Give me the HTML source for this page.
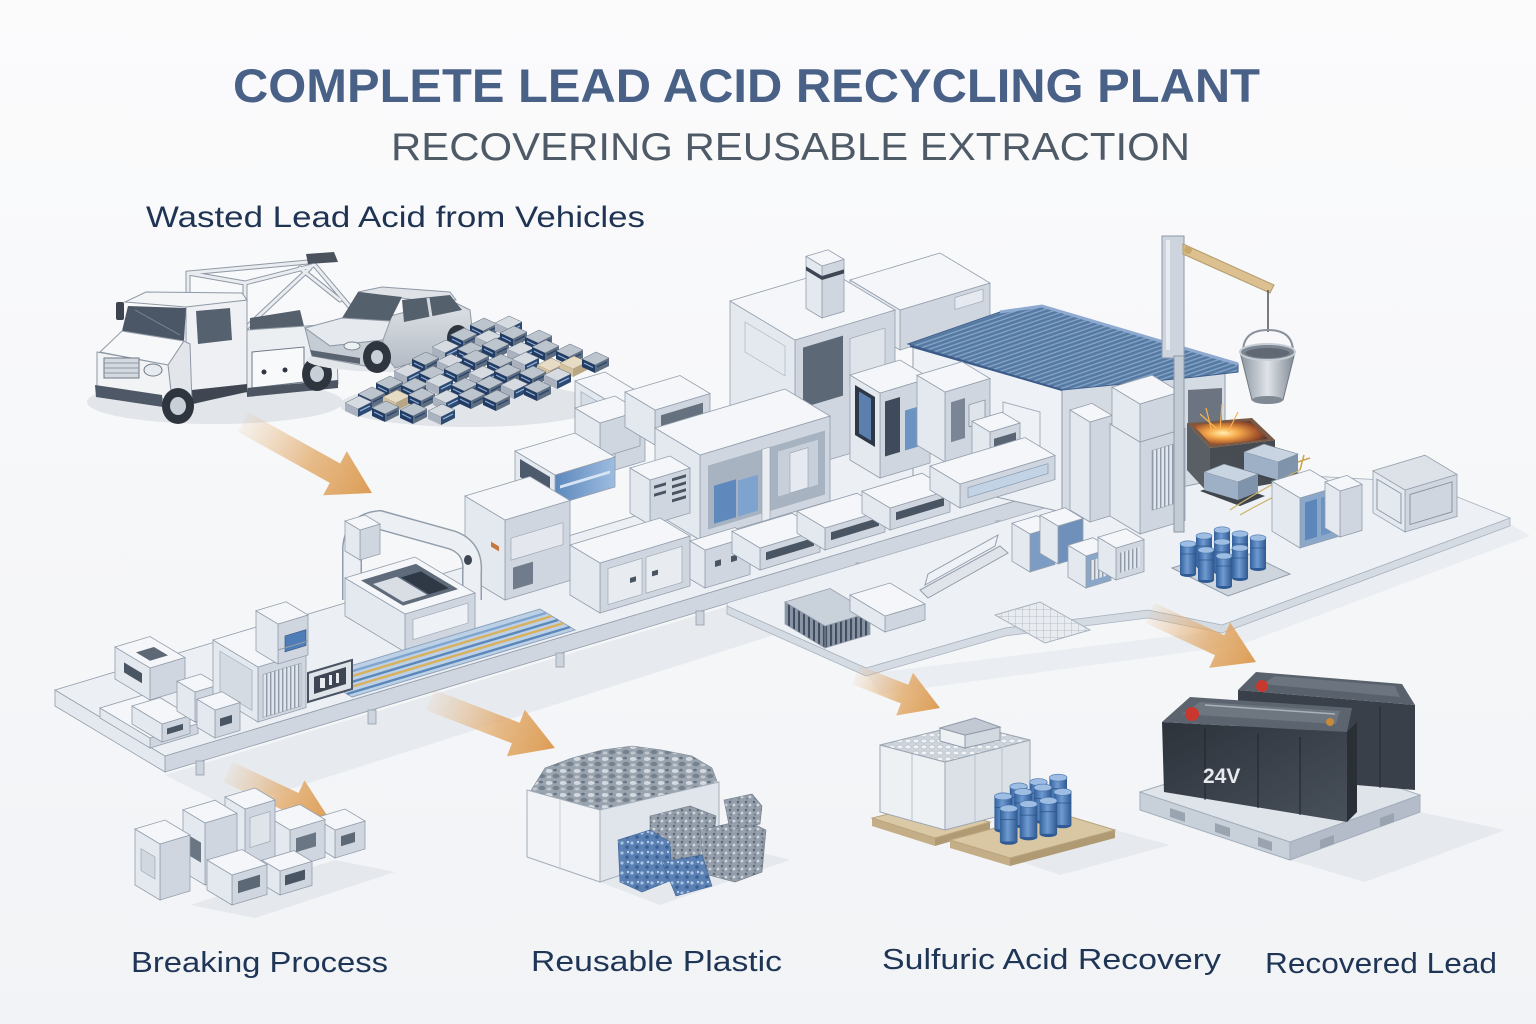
<!DOCTYPE html>
<html><head><meta charset="utf-8"><style>
html,body{margin:0;padding:0;background:#f7f8fa;}
svg{display:block}
.t{fill:#f4f6f9}.l{fill:#e4e9ef}.r{fill:#cfd6df}
.t,.l,.r,.s{stroke:#939eac;stroke-width:.8;vector-effect:non-scaling-stroke}
text{font-family:"Liberation Sans",sans-serif}
</style></head><body>
<svg width="1536" height="1024" viewBox="0 0 1536 1024">
<defs>
<linearGradient id="bgg" x1="0" y1="0" x2="0" y2="1"><stop offset="0" stop-color="#fbfbfc"/><stop offset="1" stop-color="#f1f3f6"/></linearGradient>
<linearGradient id="dg" x1="0" y1="0" x2="1" y2="0"><stop offset="0" stop-color="#33609a"/><stop offset=".45" stop-color="#6f9bd2"/><stop offset="1" stop-color="#2f5890"/></linearGradient>
<linearGradient id="bg" x1="0" y1="0" x2="1" y2="0"><stop offset="0" stop-color="#5d88bd"/><stop offset="1" stop-color="#9dbde0"/></linearGradient>
<linearGradient id="batg" x1="0" y1="0" x2="1" y2="1"><stop offset="0" stop-color="#2d333b"/><stop offset="1" stop-color="#48505a"/></linearGradient>
<linearGradient id="bkt" x1="0" y1="0" x2="1" y2="0"><stop offset="0" stop-color="#8a949f"/><stop offset=".5" stop-color="#dfe3e8"/><stop offset="1" stop-color="#7f8994"/></linearGradient>
<linearGradient id="carg" x1="0" y1="0" x2="0" y2="1"><stop offset="0" stop-color="#dfe3e8"/><stop offset="1" stop-color="#b3bac3"/></linearGradient>
<radialGradient id="fire" cx=".4" cy=".5" r=".6"><stop offset="0" stop-color="#fff0b0"/><stop offset=".35" stop-color="#f6a94a"/><stop offset=".8" stop-color="#a0502a"/><stop offset="1" stop-color="#5a3a30"/></radialGradient>
<pattern id="gr" width="4" height="4" patternUnits="userSpaceOnUse"><rect width="4" height="4" fill="#e2e6ec"/><rect width="1.4" height="4" fill="#8f9aa8"/></pattern>
<pattern id="corr" width="6" height="4" patternUnits="userSpaceOnUse" patternTransform="rotate(-19)"><rect width="6" height="4" fill="#56799f"/><rect width="6" height="1.5" fill="#7fa0c9"/></pattern>
<pattern id="hatch" width="5" height="5" patternUnits="userSpaceOnUse"><rect width="5" height="5" fill="#8894a3"/><rect width="2" height="5" fill="#3f4b5c"/></pattern>
<pattern id="grid" width="7" height="7" patternUnits="userSpaceOnUse"><rect width="7" height="7" fill="#e8ecf0"/><path d="M0,0H7M0,0V7" stroke="#a7b0bc" stroke-width=".8"/></pattern>
<pattern id="sp" width="14" height="12" patternUnits="userSpaceOnUse"><rect width="14" height="12" fill="#9aa4af"/><ellipse cx="3" cy="3" rx="3.5" ry="2" fill="#d3d9df"/><ellipse cx="10" cy="8" rx="3.5" ry="2.2" fill="#76818e"/><ellipse cx="9" cy="2" rx="2" ry="1.3" fill="#6a7583"/><ellipse cx="3" cy="9" rx="2.5" ry="1.5" fill="#c0c7cf"/></pattern>
<pattern id="spb" width="10" height="10" patternUnits="userSpaceOnUse"><rect width="10" height="10" fill="#5a80b4"/><circle cx="2" cy="3" r="1.6" fill="#a9c3e3"/><circle cx="7" cy="7" r="1.8" fill="#3a5f93"/><circle cx="8" cy="2" r="1" fill="#dce8f5"/></pattern>
<pattern id="spg" width="8" height="8" patternUnits="userSpaceOnUse"><rect width="8" height="8" fill="#959fab"/><circle cx="2" cy="2" r="1.3" fill="#5f6a78"/><circle cx="6" cy="5" r="1.4" fill="#d0d6dd"/><circle cx="3" cy="6.5" r="1" fill="#6f7a88"/></pattern>
<pattern id="btl" width="8" height="6" patternUnits="userSpaceOnUse"><rect width="8" height="6" fill="#cfd5dc"/><ellipse cx="4" cy="3" rx="3" ry="2" fill="#f1f3f6" stroke="#9ea8b4" stroke-width=".5"/></pattern>
<g id="bt"><polygon points="0,-13 14,-20 27,-14 13,-7" fill="#bcc4ce" stroke="#5d6979" stroke-width=".5"/><polygon points="0,-13 13,-7 13,1 0,-5" fill="#223b62"/><polygon points="13,-7 27,-14 27,-6 13,1" fill="#5f6d80"/><line x1="2" y1="-9" x2="11" y2="-4.5" stroke="#8fb0d8" stroke-width="1.2"/><line x1="15" y1="-5" x2="25" y2="-10" stroke="#2a4670" stroke-width="1.4"/></g>
<g id="bt3"><polygon points="0,-13 14,-20 27,-14 13,-7" fill="#d6dbe1" stroke="#5d6979" stroke-width=".5"/><polygon points="0,-13 13,-7 13,1 0,-5" fill="#a9b2be"/><polygon points="13,-7 27,-14 27,-6 13,1" fill="#2d4a72"/><line x1="15" y1="-5" x2="25" y2="-10" stroke="#9dbbe0" stroke-width="1.2"/></g>
<g id="bt2"><polygon points="0,-13 14,-20 27,-14 13,-7" fill="#e6dcc6" stroke="#8a7d66" stroke-width=".5"/><polygon points="0,-13 13,-7 13,1 0,-5" fill="#d3c2a0"/><polygon points="13,-7 27,-14 27,-6 13,1" fill="#b8a685"/></g>
<g id="dr"><ellipse cx="8" cy="30" rx="8" ry="3" fill="#2f5a93"/><rect width="16" height="30" fill="url(#dg)"/><line x1="0" y1="10" x2="16" y2="10" stroke="#2c5288" stroke-width=".7"/><ellipse cx="8" cy="0" rx="8" ry="3.2" fill="#9dbde3" stroke="#4a76ad" stroke-width=".6"/></g>
<linearGradient id="a1" gradientUnits="userSpaceOnUse" x1="243" y1="422" x2="372" y2="493"><stop offset="0" stop-color="#e6b57e" stop-opacity=".1"/><stop offset=".55" stop-color="#e2aa6a" stop-opacity=".8"/><stop offset="1" stop-color="#dc9d55"/></linearGradient>
<linearGradient id="a2" gradientUnits="userSpaceOnUse" x1="430" y1="700" x2="555" y2="748"><stop offset="0" stop-color="#e6b57e" stop-opacity=".1"/><stop offset=".55" stop-color="#e2aa6a" stop-opacity=".8"/><stop offset="1" stop-color="#dc9d55"/></linearGradient>
<linearGradient id="a3" gradientUnits="userSpaceOnUse" x1="228" y1="772" x2="330" y2="820"><stop offset="0" stop-color="#e6b57e" stop-opacity=".1"/><stop offset=".55" stop-color="#e2aa6a" stop-opacity=".8"/><stop offset="1" stop-color="#dc9d55"/></linearGradient>
<linearGradient id="a4" gradientUnits="userSpaceOnUse" x1="856" y1="675" x2="940" y2="708"><stop offset="0" stop-color="#e6b57e" stop-opacity=".1"/><stop offset=".55" stop-color="#e2aa6a" stop-opacity=".8"/><stop offset="1" stop-color="#dc9d55"/></linearGradient>
<linearGradient id="a5" gradientUnits="userSpaceOnUse" x1="1150" y1="613" x2="1256" y2="662"><stop offset="0" stop-color="#e6b57e" stop-opacity=".1"/><stop offset=".55" stop-color="#e2aa6a" stop-opacity=".8"/><stop offset="1" stop-color="#dc9d55"/></linearGradient>
</defs>

<rect width="1536" height="1024" fill="url(#bgg)"/>

<!-- TITLES -->
<text x="233" y="102" font-size="47" font-weight="bold" fill="#4a6187" textLength="1027" lengthAdjust="spacingAndGlyphs">COMPLETE LEAD ACID RECYCLING PLANT</text>
<text x="391" y="160" font-size="39" fill="#4f5a67" textLength="799" lengthAdjust="spacingAndGlyphs">RECOVERING REUSABLE EXTRACTION</text>
<text x="146" y="227" font-size="30" fill="#1f3453" textLength="499" lengthAdjust="spacingAndGlyphs">Wasted Lead Acid from Vehicles</text>

<!-- TRUCK -->
<ellipse cx="215" cy="402" rx="128" ry="22" fill="#e2e5e9"/>
<!-- boom frame -->
<g fill="none" stroke-linecap="round">
<path d="M188,306 L188,273 L308,262 M245,388 L245,283 L188,273 M245,283 L312,266 M247,327 L310,268 M312,262 L350,307 M300,268 L340,300" stroke="#8f99a6" stroke-width="5"/>
<path d="M188,306 L188,273 L308,262 M245,388 L245,283 L188,273 M245,283 L312,266 M247,327 L310,268 M312,262 L350,307 M300,268 L340,300" stroke="#e9ecf0" stroke-width="3"/>
</g>
<polygon points="306,254 334,252 338,262 308,264" fill="#4a525e"/>
<!-- bed -->
<polygon points="250,318 300,310 306,334 250,342" fill="#56606d"/>
<polygon points="247,330 336,324 338,384 247,393" fill="#eceff2" stroke="#8f99a6"/>
<polygon points="252,352 304,347 304,382 252,388" fill="#f8f9fa" stroke="#6f7987"/>
<circle cx="264" cy="372" r="2.5" fill="#2f3640"/><circle cx="285" cy="370" r="2.5" fill="#2f3640"/>
<polygon points="247,388 338,380 338,388 247,397" fill="#4d5563"/>
<ellipse cx="317" cy="374" rx="15" ry="17" fill="#2f353e"/><ellipse cx="317" cy="374" rx="7" ry="8" fill="#c9cfd7"/>
<!-- cab -->
<polygon points="186,306 247,300 247,390 192,404 186,396" fill="#eef0f3" stroke="#8f99a6"/>
<polygon points="196,311 230,308 232,340 198,344" fill="#56616f"/>
<polygon points="192,390 247,384 247,392 192,404" fill="#3f4652"/>
<polygon points="125,302 146,292 242,293 247,300 186,307" fill="#f4f5f7" stroke="#8f99a6"/>
<polygon points="128,306 186,308 184,341 122,331" fill="#4b5666"/>
<line x1="135" y1="310" x2="180" y2="335" stroke="#7c8795" stroke-width="1"/>
<rect x="116" y="302" width="8" height="18" rx="2" fill="#3d4450"/>
<polygon points="100,352 122,331 184,341 168,365" fill="#f7f8fa" stroke="#8f99a6"/>
<polygon points="168,365 184,341 190,344 192,404 172,400" fill="#e2e6eb" stroke="#8f99a6"/>
<polygon points="97,352 168,365 172,400 97,390" fill="#f1f3f5" stroke="#8f99a6"/>
<rect x="104" y="358" width="35" height="20" fill="#d3d9df" stroke="#6f7987"/>
<path d="M104,363H139M104,368H139M104,373H139" stroke="#8f99a6"/>
<ellipse cx="153" cy="370" rx="9" ry="6" fill="#e6ebf0" stroke="#6f7987"/>
<polygon points="95,385 162,395 163,407 96,397" fill="#4f5866"/>
<ellipse cx="178" cy="406" rx="16" ry="18" fill="#2f353e"/><ellipse cx="178" cy="406" rx="8" ry="9" fill="#c9cfd7"/>

<!-- CAR -->
<ellipse cx="395" cy="360" rx="88" ry="12" fill="#e2e5e9"/>
<polygon points="358,292 382,287 450,292 456,300 430,302" fill="#dfe3e8" stroke="#8f99a6"/>
<polygon points="383,318 450,300 470,310 474,345 395,368 383,352" fill="url(#carg)" stroke="#8f99a6"/>
<polygon points="342,318 358,292 402,297 390,321" fill="#55606d"/>
<polygon points="402,300 450,295 462,310 404,322" fill="#55606d"/>
<line x1="428" y1="298" x2="431" y2="317" stroke="#d4d9df" stroke-width="3"/>
<polygon points="305,328 342,318 390,321 383,340 330,346" fill="#e6e9ed" stroke="#8f99a6"/>
<polygon points="305,328 330,346 383,340 383,356 365,366 312,356" fill="#c6ccd4" stroke="#8f99a6"/>
<ellipse cx="352" cy="346" rx="8" ry="4" fill="#eef1f4" stroke="#7d8794"/>
<polygon points="310,350 360,358 360,364 312,356" fill="#5a6370"/>
<ellipse cx="377" cy="357" rx="14" ry="16" fill="#2f353e"/><ellipse cx="377" cy="357" rx="6" ry="7" fill="#c9cfd7"/>
<ellipse cx="458" cy="338" rx="11" ry="13" fill="#2f353e"/><ellipse cx="458" cy="338" rx="5" ry="6" fill="#c9cfd7"/>

<!-- BATTERY PILE -->
<ellipse cx="470" cy="405" rx="130" ry="22" fill="#e1e4e8"/>
<use href="#bt" x="470" y="338"/><use href="#bt3" x="495" y="336"/>
<use href="#bt" x="450" y="348"/><use href="#bt3" x="475" y="350"/><use href="#bt" x="500" y="346"/><use href="#bt" x="525" y="350"/>
<use href="#bt3" x="432" y="360"/><use href="#bt" x="457" y="362"/><use href="#bt" x="482" y="358"/><use href="#bt3" x="507" y="362"/><use href="#bt" x="532" y="360"/><use href="#bt" x="556" y="364"/>
<use href="#bt" x="412" y="372"/><use href="#bt3" x="437" y="374"/><use href="#bt" x="462" y="370"/><use href="#bt" x="487" y="374"/><use href="#bt3" x="512" y="372"/><use href="#bt2" x="537" y="378"/><use href="#bt2" x="560" y="376"/><use href="#bt" x="582" y="372"/>
<use href="#bt3" x="394" y="384"/><use href="#bt" x="419" y="386"/><use href="#bt" x="444" y="382"/><use href="#bt3" x="469" y="386"/><use href="#bt" x="494" y="384"/><use href="#bt" x="519" y="386"/><use href="#bt3" x="544" y="388"/>
<use href="#bt" x="376" y="396"/><use href="#bt" x="401" y="398"/><use href="#bt3" x="426" y="394"/><use href="#bt" x="451" y="398"/><use href="#bt" x="476" y="396"/><use href="#bt3" x="501" y="398"/><use href="#bt" x="524" y="400"/>
<use href="#bt" x="358" y="407"/><use href="#bt2" x="383" y="410"/><use href="#bt" x="408" y="408"/><use href="#bt3" x="433" y="410"/><use href="#bt" x="458" y="408"/><use href="#bt" x="483" y="410"/>
<use href="#bt3" x="345" y="416"/><use href="#bt" x="372" y="421"/><use href="#bt" x="400" y="423"/><use href="#bt3" x="428" y="424"/>

<!-- PLANT SHADOWS -->
<polygon points="165,775 1065,505 1120,525 230,808" fill="#e7eaee"/>
<polygon points="866,674 1222,630 1510,524 1530,536 1240,645 880,694" fill="#eaedf1"/>

<!-- PLATFORM -->
<g transform="translate(165,772)"><rect class="r" transform="matrix(1,-.3,0,1,0,0)" y="-16" width="900" height="16"/><rect class="l" transform="matrix(-1,-.6,0,1,0,0)" y="-16" width="110" height="16"/><rect class="t" style="fill:#eceff3" transform="matrix(1,-.3,-1,-.6,0,-16)" width="900" height="110"/></g>
<g fill="#cdd4dd" stroke="#939eac" stroke-width=".8"><rect x="196" y="761" width="8" height="14"/><rect x="368" y="710" width="8" height="14"/><rect x="556" y="653" width="8" height="14"/><rect x="696" y="611" width="8" height="14"/><rect x="856" y="563" width="8" height="14"/><rect x="996" y="521" width="8" height="14"/></g>

<!-- YARD FLOOR -->
<polygon points="727,614 866,676 1005,636 1148,618 1222,633 1510,526 1510,518 1222,625 1148,610 1005,628 866,668 727,606" fill="#d5dbe3" stroke="#a9b2be" stroke-width=".8"/>
<polygon points="727,606 866,668 1005,628 1148,610 1222,625 1510,518 1420,482 1200,470 1065,502 727,603" fill="#edf0f4" stroke="#a9b2be" stroke-width=".8"/>

<!-- BACK BLOCK -->
<g transform="translate(900,350)"><rect class="r" transform="matrix(1,-.3,0,1,0,0)" y="-40" width="90" height="40"/><rect class="l" transform="matrix(-1,-.6,0,1,0,0)" y="-40" width="50" height="40"/><rect class="t" transform="matrix(1,-.3,-1,-.6,0,-40)" width="90" height="50"/><rect transform="matrix(1,-.3,0,1,0,0)" x="55" y="-36" width="28" height="12" fill="#e6eaf0" stroke="#939eac" stroke-width=".6"/></g>

<!-- BUILDING -->
<polygon points="913,345 1062,385 1062,512 913,478" fill="#eef1f5" stroke="#939eac"/>
<polygon points="1003,402 1040,412 1040,458 1003,448" fill="none" stroke="#a4aebb"/>
<polygon points="1062,385 1225,372 1225,478 1062,512" fill="#d5dbe3" stroke="#939eac"/>
<polygon points="1188,390 1222,388 1222,430 1188,428" fill="#6b7480"/>
<polygon points="908,344 1000,312 1042,306 1238,364 1238,372 1195,377 1062,390" fill="url(#corr)" stroke="#3f5f8c"/>
<polyline points="1000,312 1042,306 1238,364" stroke="#8eaad0" stroke-width="3" fill="none"/>
<line x1="910" y1="346" x2="1062" y2="390" stroke="#3d5b88" stroke-width="2"/>

<!-- TALL BLOCK + CHIMNEY -->
<g transform="translate(795,470)"><rect class="r" transform="matrix(1,-.3,0,1,0,0)" y="-130" width="100" height="130"/><rect class="l" transform="matrix(-1,-.6,0,1,0,0)" y="-130" width="65" height="130"/><rect class="t" transform="matrix(1,-.3,-1,-.6,0,-130)" width="100" height="65"/>
<rect transform="matrix(1,-.3,0,1,0,0)" x="8" y="-120" width="40" height="60" fill="#5d6877"/><rect transform="matrix(1,-.3,0,1,0,0)" x="55" y="-115" width="35" height="45" fill="#dfe4ea" stroke="#939eac" stroke-width=".6"/>
<rect transform="matrix(-1,-.6,0,1,0,0)" x="10" y="-118" width="40" height="30" fill="none" stroke="#a4aebb" stroke-width=".6"/></g>
<g transform="translate(822,318)"><rect class="r" transform="matrix(1,-.3,0,1,0,0)" y="-52" width="22" height="52"/><rect class="l" transform="matrix(-1,-.6,0,1,0,0)" y="-52" width="16" height="52"/><rect class="t" transform="matrix(1,-.3,-1,-.6,0,-52)" width="22" height="16"/><rect transform="matrix(1,-.3,0,1,0,0)" y="-42" width="22" height="4" fill="#3e4653"/><rect transform="matrix(-1,-.6,0,1,0,0)" y="-42" width="16" height="4" fill="#3e4653"/></g>

<!-- MIDDLE BACK BLOCKS -->
<g transform="translate(615,470)"><rect class="r" transform="matrix(1,-.3,0,1,0,0)" y="-65" width="30" height="65"/><rect class="l" transform="matrix(-1,-.6,0,1,0,0)" y="-65" width="40" height="65"/><rect class="t" transform="matrix(1,-.3,-1,-.6,0,-65)" width="30" height="40"/><rect transform="matrix(-1,-.6,0,1,0,0)" x="6" y="-58" width="28" height="40" fill="#d7dde5" stroke="#939eac" stroke-width=".6"/></g>
<g transform="translate(600,458)"><rect class="r" transform="matrix(1,-.3,0,1,0,0)" y="-35" width="40" height="35"/><rect class="l" transform="matrix(-1,-.6,0,1,0,0)" y="-35" width="25" height="35"/><rect class="t" transform="matrix(1,-.3,-1,-.6,0,-35)" width="40" height="25"/></g>
<g transform="translate(655,445)"><rect class="r" transform="matrix(1,-.3,0,1,0,0)" y="-35" width="55" height="35"/><rect class="l" transform="matrix(-1,-.6,0,1,0,0)" y="-35" width="30" height="35"/><rect class="t" transform="matrix(1,-.3,-1,-.6,0,-35)" width="55" height="30"/><rect transform="matrix(1,-.3,0,1,0,0)" x="6" y="-28" width="42" height="14" fill="#66717f"/></g>

<!-- RIGHT OF MIDDLE -->
<g transform="translate(880,478)"><rect class="r" transform="matrix(1,-.3,0,1,0,0)" y="-85" width="50" height="85"/><rect class="l" transform="matrix(-1,-.6,0,1,0,0)" y="-85" width="30" height="85"/><rect class="t" transform="matrix(1,-.3,-1,-.6,0,-85)" width="50" height="30"/><rect transform="matrix(1,-.3,0,1,0,0)" x="5" y="-75" width="15" height="55" fill="#3f4a5a"/><rect transform="matrix(1,-.3,0,1,0,0)" x="25" y="-60" width="18" height="40" fill="#6d93c2"/><rect transform="matrix(-1,-.6,0,1,0,0)" x="5" y="-78" width="20" height="50" fill="#2e3746"/><rect transform="matrix(-1,-.6,0,1,0,0)" x="9" y="-74" width="12" height="42" fill="#5b7fae"/></g>
<g transform="translate(945,462)"><rect class="r" transform="matrix(1,-.3,0,1,0,0)" y="-70" width="45" height="70"/><rect class="l" transform="matrix(-1,-.6,0,1,0,0)" y="-70" width="28" height="70"/><rect class="t" transform="matrix(1,-.3,-1,-.6,0,-70)" width="45" height="28"/><rect transform="matrix(1,-.3,0,1,0,0)" x="6" y="-58" width="14" height="40" fill="#7a8696"/><rect transform="matrix(1,-.3,0,1,0,0)" x="24" y="-50" width="16" height="22" fill="#dfe4ea" stroke="#6f7b8a" stroke-width=".6"/></g>
<g transform="translate(990,472)"><rect class="r" transform="matrix(1,-.3,0,1,0,0)" y="-40" width="30" height="40"/><rect class="l" transform="matrix(-1,-.6,0,1,0,0)" y="-40" width="18" height="40"/><rect class="t" transform="matrix(1,-.3,-1,-.6,0,-40)" width="30" height="18"/><rect transform="matrix(1,-.3,0,1,0,0)" x="4" y="-32" width="22" height="16" fill="#596474"/></g>

<!-- MIDDLE STRUCTURE -->
<g transform="translate(700,540)"><rect class="r" transform="matrix(1,-.3,0,1,0,0)" y="-85" width="130" height="85"/><rect class="l" transform="matrix(-1,-.6,0,1,0,0)" y="-85" width="45" height="85"/><rect class="t" transform="matrix(1,-.3,-1,-.6,0,-85)" width="130" height="45"/>
<rect transform="matrix(1,-.3,0,1,0,0)" x="8" y="-72" width="117" height="64" fill="#a7b3c1"/>
<rect transform="matrix(1,-.3,0,1,0,0)" x="14" y="-50" width="22" height="38" fill="#5f89bd"/><rect transform="matrix(1,-.3,0,1,0,0)" x="38" y="-48" width="20" height="36" fill="#7fa3cf"/>
<rect transform="matrix(1,-.3,0,1,0,0)" x="62" y="-72" width="8" height="72" fill="#e9edf2" stroke="#939eac" stroke-width=".6"/>
<rect transform="matrix(1,-.3,0,1,0,0)" x="78" y="-65" width="40" height="45" fill="#c7d0da"/>
<rect transform="matrix(1,-.3,0,1,0,0)" x="90" y="-60" width="18" height="40" fill="#e6eaf0" stroke="#939eac" stroke-width=".6"/></g>

<!-- BLUE CONTAINER -->
<g transform="translate(555,505)"><rect class="r" style="fill:url(#bg)" transform="matrix(1,-.3,0,1,0,0)" y="-30" width="60" height="30"/><rect class="l" transform="matrix(-1,-.6,0,1,0,0)" y="-30" width="40" height="30"/><rect class="t" transform="matrix(1,-.3,-1,-.6,0,-30)" width="60" height="40"/><rect transform="matrix(1,-.3,0,1,0,0)" x="5" y="-18" width="50" height="3" fill="#d6e4f3"/><rect transform="matrix(-1,-.6,0,1,0,0)" x="5" y="-25" width="30" height="18" fill="#4d5a6c"/></g>

<!-- BIG BOX -->
<g transform="translate(505,600)"><rect class="r" transform="matrix(1,-.3,0,1,0,0)" y="-80" width="65" height="80"/><rect class="l" transform="matrix(-1,-.6,0,1,0,0)" y="-80" width="40" height="80"/><rect class="t" transform="matrix(1,-.3,-1,-.6,0,-80)" width="65" height="40"/>
<rect transform="matrix(1,-.3,0,1,0,0)" x="6" y="-60" width="52" height="22" fill="#e4e8ee" stroke="#939eac" stroke-width=".6"/><rect transform="matrix(1,-.3,0,1,0,0)" x="8" y="-30" width="20" height="22" fill="#707c8b"/><rect transform="matrix(-1,-.6,0,1,0,0)" x="6" y="-50" width="8" height="5" fill="#c6793f"/></g>

<!-- TOWER WITH STRIPES -->
<g transform="translate(650,525)"><rect class="r" transform="matrix(1,-.3,0,1,0,0)" y="-45" width="40" height="45"/><rect class="l" transform="matrix(-1,-.6,0,1,0,0)" y="-45" width="20" height="45"/><rect class="t" transform="matrix(1,-.3,-1,-.6,0,-45)" width="40" height="20"/>
<g fill="#4a5564"><rect transform="matrix(1,-.3,0,1,0,0)" x="22" y="-40" width="14" height="3"/><rect transform="matrix(1,-.3,0,1,0,0)" x="22" y="-33" width="14" height="3"/><rect transform="matrix(1,-.3,0,1,0,0)" x="22" y="-26" width="14" height="3"/><rect transform="matrix(1,-.3,0,1,0,0)" x="22" y="-19" width="14" height="3"/><rect transform="matrix(1,-.3,0,1,0,0)" x="4" y="-38" width="12" height="3"/><rect transform="matrix(1,-.3,0,1,0,0)" x="4" y="-30" width="12" height="3"/></g></g>

<!-- ARM + CRUSHER -->
<path d="M352,600 L352,548 Q354,522 380,520 L452,540 Q474,548 472,572 L472,600" fill="none" stroke="#939eac" stroke-width="20"/>
<path d="M352,600 L352,548 Q354,522 380,520 L452,540 Q474,548 472,572 L472,600" fill="none" stroke="#eceff3" stroke-width="17"/>
<ellipse cx="468" cy="560" rx="4" ry="5" fill="#3e4653"/>
<g transform="translate(360,560)"><rect class="r" transform="matrix(1,-.3,0,1,0,0)" y="-30" width="20" height="30"/><rect class="l" transform="matrix(-1,-.6,0,1,0,0)" y="-30" width="15" height="30"/><rect class="t" transform="matrix(1,-.3,-1,-.6,0,-30)" width="20" height="15"/></g>
<g transform="translate(405,652)"><rect class="r" transform="matrix(1,-.3,0,1,0,0)" y="-38" width="70" height="38"/><rect class="l" transform="matrix(-1,-.6,0,1,0,0)" y="-38" width="60" height="38"/><rect class="t" transform="matrix(1,-.3,-1,-.6,0,-38)" width="70" height="60"/>
<rect transform="matrix(1,-.3,-1,-.6,0,-38)" x="8" y="10" width="55" height="42" fill="#5f6b7a"/>
<rect transform="matrix(1,-.3,-1,-.6,0,-38)" x="12" y="14" width="24" height="30" fill="#d9dee5"/>
<rect transform="matrix(1,-.3,-1,-.6,0,-38)" x="38" y="14" width="20" height="28" fill="#2f3946"/>
<rect transform="matrix(1,-.3,0,1,0,0)" x="8" y="-30" width="55" height="20" fill="#eef1f5" stroke="#939eac" stroke-width=".6"/></g>

<!-- BELT -->
<polygon points="352,697 575,630 540,609 317,676" fill="#bcd0e6" stroke="#8ea3bb"/>
<g stroke-width="2.4"><line x1="347" y1="694" x2="570" y2="627" stroke="#5b87bb"/><line x1="341" y1="690" x2="564" y2="623" stroke="#d9b15c"/><line x1="335" y1="687" x2="558" y2="620" stroke="#5b87bb"/><line x1="329" y1="683" x2="552" y2="616" stroke="#d9b15c"/><line x1="323" y1="680" x2="546" y2="613" stroke="#7fa4cf"/></g>

<!-- DOOR BOX -->
<g transform="translate(600,613)"><rect class="r" transform="matrix(1,-.3,0,1,0,0)" y="-50" width="90" height="50"/><rect class="l" transform="matrix(-1,-.6,0,1,0,0)" y="-50" width="30" height="50"/><rect class="t" transform="matrix(1,-.3,-1,-.6,0,-50)" width="90" height="30"/>
<rect transform="matrix(1,-.3,0,1,0,0)" x="8" y="-42" width="34" height="36" fill="#e8ecf1" stroke="#939eac" stroke-width=".6"/><rect transform="matrix(1,-.3,0,1,0,0)" x="46" y="-42" width="36" height="36" fill="#e8ecf1" stroke="#939eac" stroke-width=".6"/>
<rect transform="matrix(1,-.3,0,1,0,0)" x="30" y="-26" width="6" height="5" fill="#4a5564"/><rect transform="matrix(1,-.3,0,1,0,0)" x="52" y="-26" width="6" height="5" fill="#4a5564"/></g>

<!-- PODS -->
<g transform="translate(705,588)"><rect class="r" transform="matrix(1,-.3,0,1,0,0)" y="-38" width="45" height="38"/><rect class="l" transform="matrix(-1,-.6,0,1,0,0)" y="-38" width="15" height="38"/><rect class="t" transform="matrix(1,-.3,-1,-.6,0,-38)" width="45" height="15"/><rect transform="matrix(1,-.3,0,1,0,0)" x="10" y="-24" width="6" height="6" fill="#4a5564"/><rect transform="matrix(1,-.3,0,1,0,0)" x="26" y="-24" width="6" height="6" fill="#4a5564"/></g>
<g transform="translate(760,570)"><rect class="r" transform="matrix(1,-.3,0,1,0,0)" y="-22" width="60" height="22"/><rect class="l" transform="matrix(-1,-.6,0,1,0,0)" y="-22" width="28" height="22"/><rect class="t" transform="matrix(1,-.3,-1,-.6,0,-22)" width="60" height="28"/><rect transform="matrix(1,-.3,0,1,0,0)" x="6" y="-16" width="48" height="8" fill="#4a5564"/></g>
<g transform="translate(825,550)"><rect class="r" transform="matrix(1,-.3,0,1,0,0)" y="-22" width="60" height="22"/><rect class="l" transform="matrix(-1,-.6,0,1,0,0)" y="-22" width="28" height="22"/><rect class="t" transform="matrix(1,-.3,-1,-.6,0,-22)" width="60" height="28"/><rect transform="matrix(1,-.3,0,1,0,0)" x="6" y="-16" width="48" height="8" fill="#4a5564"/></g>
<g transform="translate(890,530)"><rect class="r" transform="matrix(1,-.3,0,1,0,0)" y="-22" width="60" height="22"/><rect class="l" transform="matrix(-1,-.6,0,1,0,0)" y="-22" width="28" height="22"/><rect class="t" transform="matrix(1,-.3,-1,-.6,0,-22)" width="60" height="28"/><rect transform="matrix(1,-.3,0,1,0,0)" x="6" y="-16" width="48" height="8" fill="#4a5564"/></g>
<g transform="translate(960,508)"><rect class="r" transform="matrix(1,-.3,0,1,0,0)" y="-24" width="95" height="24"/><rect class="l" transform="matrix(-1,-.6,0,1,0,0)" y="-24" width="30" height="24"/><rect class="t" transform="matrix(1,-.3,-1,-.6,0,-24)" width="95" height="30"/><rect transform="matrix(1,-.3,0,1,0,0)" x="8" y="-18" width="80" height="10" fill="#c2d3e6" stroke="#7d8fa6" stroke-width=".6"/></g>

<!-- LEFT END -->
<g transform="translate(150,748)"><rect class="r" transform="matrix(1,-.3,0,1,0,0)" y="-10" width="48" height="10"/><rect class="l" transform="matrix(-1,-.6,0,1,0,0)" y="-10" width="50" height="10"/><rect class="t" transform="matrix(1,-.3,-1,-.6,0,-10)" width="48" height="50"/></g>
<g transform="translate(150,700)"><rect class="r" transform="matrix(1,-.3,0,1,0,0)" y="-32" width="35" height="32"/><rect class="l" transform="matrix(-1,-.6,0,1,0,0)" y="-32" width="35" height="32"/><rect class="t" transform="matrix(1,-.3,-1,-.6,0,-32)" width="35" height="35"/><rect transform="matrix(-1,-.6,0,1,0,0)" x="8" y="-22" width="18" height="10" fill="#4a5564"/><rect transform="matrix(1,-.3,-1,-.6,0,-32)" x="8" y="8" width="18" height="14" fill="#5d6877"/></g>
<g transform="translate(162,742)"><rect class="r" transform="matrix(1,-.3,0,1,0,0)" y="-18" width="28" height="18"/><rect class="l" transform="matrix(-1,-.6,0,1,0,0)" y="-18" width="30" height="18"/><rect class="t" transform="matrix(1,-.3,-1,-.6,0,-18)" width="28" height="30"/><rect transform="matrix(1,-.3,0,1,0,0)" x="5" y="-12" width="16" height="6" fill="#4a5564"/></g>
<g transform="translate(195,722)"><rect class="r" transform="matrix(1,-.3,0,1,0,0)" y="-30" width="24" height="30"/><rect class="l" transform="matrix(-1,-.6,0,1,0,0)" y="-30" width="18" height="30"/><rect class="t" transform="matrix(1,-.3,-1,-.6,0,-30)" width="24" height="18"/></g>

<!-- GRILLE BUILDING -->
<g transform="translate(258,722)"><rect class="r" transform="matrix(1,-.3,0,1,0,0)" y="-55" width="48" height="55"/><rect class="l" transform="matrix(-1,-.6,0,1,0,0)" y="-55" width="45" height="55"/><rect class="t" transform="matrix(1,-.3,-1,-.6,0,-55)" width="48" height="45"/>
<rect transform="matrix(1,-.3,0,1,0,0)" x="5" y="-46" width="38" height="43" fill="url(#gr)" stroke="#939eac" stroke-width=".6"/>
<rect transform="matrix(-1,-.6,0,1,0,0)" x="6" y="-48" width="32" height="40" fill="#d5dbe3" stroke="#939eac" stroke-width=".6"/></g>
<g transform="translate(215,738)"><rect class="r" transform="matrix(1,-.3,0,1,0,0)" y="-28" width="25" height="28"/><rect class="l" transform="matrix(-1,-.6,0,1,0,0)" y="-28" width="18" height="28"/><rect class="t" transform="matrix(1,-.3,-1,-.6,0,-28)" width="25" height="18"/><rect transform="matrix(1,-.3,0,1,0,0)" x="5" y="-18" width="12" height="8" fill="#4a5564"/></g>
<g transform="translate(278,664)"><rect class="r" transform="matrix(1,-.3,0,1,0,0)" y="-40" width="30" height="40"/><rect class="l" transform="matrix(-1,-.6,0,1,0,0)" y="-40" width="22" height="40"/><rect class="t" transform="matrix(1,-.3,-1,-.6,0,-40)" width="30" height="22"/><rect transform="matrix(1,-.3,0,1,0,0)" x="7" y="-26" width="21" height="16" fill="#4f7db8" stroke="#2f4f7a" stroke-width=".6"/><line x1="0" y1="-14" x2="30" y2="-23" stroke="#939eac"/></g>
<polygon points="308,673 352,660 352,689 308,702" fill="#dfe4ea" stroke="#4a5361" stroke-width="2"/>
<polygon points="314,677 346,667 346,684 314,694" fill="#3e4653"/>
<g fill="#e9edf2"><rect x="320" y="678" width="5" height="10"/><rect x="329" y="675" width="3" height="10"/><rect x="336" y="673" width="3" height="10"/></g>

<!-- GRAY EQUIPMENT NEAR BUILDING -->
<g transform="translate(1090,522)"><rect class="r" transform="matrix(1,-.3,0,1,0,0)" y="-100" width="22" height="100"/><rect class="l" transform="matrix(-1,-.6,0,1,0,0)" y="-100" width="20" height="100"/><rect class="t" transform="matrix(1,-.3,-1,-.6,0,-100)" width="22" height="20"/></g>
<g transform="translate(1140,534)"><rect class="r" transform="matrix(1,-.3,0,1,0,0)" y="-92" width="45" height="92"/><rect class="l" transform="matrix(-1,-.6,0,1,0,0)" y="-92" width="30" height="92"/><rect class="t" transform="matrix(1,-.3,-1,-.6,0,-92)" width="45" height="30"/><rect transform="matrix(1,-.3,0,1,0,0)" x="12" y="-80" width="22" height="60" fill="url(#gr)" stroke="#939eac" stroke-width=".6"/></g>
<g transform="translate(1140,442)"><rect class="r" transform="matrix(1,-.3,0,1,0,0)" y="-38" width="40" height="38"/><rect class="l" transform="matrix(-1,-.6,0,1,0,0)" y="-38" width="28" height="38"/><rect class="t" transform="matrix(1,-.3,-1,-.6,0,-38)" width="40" height="28"/></g>

<!-- FURNACE -->
<polygon points="1187,423 1210,448 1210,495 1187,470" fill="#5a5f66"/>
<polygon points="1210,448 1275,440 1275,483 1210,495" fill="#474c53"/>
<polygon points="1187,423 1252,418 1275,440 1210,448" fill="#7a5a45"/>
<polygon points="1193,425 1250,421 1268,439 1212,445" fill="url(#fire)"/>
<g stroke="#f7b553" stroke-width="1.2"><line x1="1212" y1="432" x2="1206" y2="408"/><line x1="1220" y1="430" x2="1222" y2="404"/><line x1="1228" y1="432" x2="1238" y2="412"/><line x1="1216" y1="428" x2="1200" y2="414"/></g>
<!-- CARTS -->
<polygon points="1240,470 1280,484 1302,474 1262,461" fill="#3f454d"/>
<polygon points="1244,452 1278,462 1298,454 1264,444" fill="#c8d4e2" stroke="#6f7b8a" stroke-width=".6"/>
<polygon points="1244,452 1278,462 1278,480 1244,470" fill="#9db0c6"/><polygon points="1278,462 1298,454 1298,472 1278,480" fill="#7f93aa"/>
<polygon points="1200,491 1240,506 1265,496 1225,482" fill="#3f454d"/>
<polygon points="1204,472 1238,482 1258,474 1224,464" fill="#c8d4e2" stroke="#6f7b8a" stroke-width=".6"/>
<polygon points="1204,472 1238,482 1238,500 1204,490" fill="#9db0c6"/><polygon points="1238,482 1258,474 1258,492 1238,500" fill="#7f93aa"/>
<path d="M1230,510 Q1260,490 1300,470 M1240,515 Q1275,495 1310,480" stroke="#d0b36a" stroke-width="1.2" fill="none"/>
<path d="M1300,470 L1304,455 M1298,462 L1310,458" stroke="#c9a64f" stroke-width="1.5"/>

<!-- CRANE -->
<rect x="1162" y="236" width="22" height="122" fill="#cdd4dd" stroke="#8d98a6"/>
<rect x="1166" y="240" width="4" height="110" fill="#e8ecf0"/>
<rect x="1174" y="356" width="10" height="176" fill="#c3cbd5" stroke="#8d98a6"/>
<polygon points="1183,244 1274,285 1270,293 1183,254" fill="#dcc08f" stroke="#b39a6c"/>
<circle cx="1188" cy="250" r="4" fill="#c9a86a"/>
<line x1="1268" y1="290" x2="1268" y2="332" stroke="#4d535a" stroke-width="1.5"/>
<path d="M1243,352 Q1243,330 1268,330 Q1293,330 1293,352" stroke="#8a939d" stroke-width="2" fill="none"/>
<path d="M1240,352 L1295,352 L1283,400 L1252,400 Z" fill="url(#bkt)" stroke="#6f7882"/>
<ellipse cx="1267.5" cy="400" rx="15.5" ry="4" fill="#7f8994"/>
<ellipse cx="1267.5" cy="352" rx="27.5" ry="8" fill="#7d8793" stroke="#c8ced5" stroke-width="2"/>
<ellipse cx="1267.5" cy="353" rx="22" ry="5" fill="#5f6873"/>

<!-- YARD ITEMS -->
<g transform="translate(825,648)"><rect class="r" style="fill:url(#hatch)" transform="matrix(1,-.3,0,1,0,0)" y="-22" width="45" height="22"/><rect class="l" style="fill:url(#hatch)" transform="matrix(-1,-.6,0,1,0,0)" y="-22" width="40" height="22"/><rect class="t" style="fill:#c9d1db" transform="matrix(1,-.3,-1,-.6,0,-22)" width="45" height="40"/></g>
<g transform="translate(885,632)"><rect class="r" transform="matrix(1,-.3,0,1,0,0)" y="-16" width="40" height="16"/><rect class="l" transform="matrix(-1,-.6,0,1,0,0)" y="-16" width="35" height="16"/><rect class="t" transform="matrix(1,-.3,-1,-.6,0,-16)" width="40" height="35"/></g>
<polygon points="920,590 1000,546 1008,553 928,598" fill="#dfe4ea" stroke="#939eac"/>
<polygon points="925,585 995,546 998,535 928,574" fill="#eef1f5" stroke="#939eac"/>
<polygon points="995,615 1045,643 1090,630 1040,602" fill="url(#grid)" stroke="#a8b1bd"/>
<g transform="translate(1030,572)"><rect class="r" style="fill:#7d9cc3" transform="matrix(1,-.3,0,1,0,0)" y="-38" width="25" height="38"/><rect class="l" transform="matrix(-1,-.6,0,1,0,0)" y="-38" width="18" height="38"/><rect class="t" transform="matrix(1,-.3,-1,-.6,0,-38)" width="25" height="18"/></g>
<g transform="translate(1058,564)"><rect class="r" style="fill:#6f90ba" transform="matrix(1,-.3,0,1,0,0)" y="-38" width="25" height="38"/><rect class="l" transform="matrix(-1,-.6,0,1,0,0)" y="-38" width="18" height="38"/><rect class="t" transform="matrix(1,-.3,-1,-.6,0,-38)" width="25" height="18"/></g>
<g transform="translate(1086,588)"><rect class="r" style="fill:#8aa6c9" transform="matrix(1,-.3,0,1,0,0)" y="-32" width="25" height="32"/><rect class="l" transform="matrix(-1,-.6,0,1,0,0)" y="-32" width="18" height="32"/><rect class="t" transform="matrix(1,-.3,-1,-.6,0,-32)" width="25" height="18"/><rect transform="matrix(1,-.3,0,1,0,0)" x="4" y="-26" width="16" height="20" fill="url(#gr)"/></g>
<g transform="translate(1116,580)"><rect class="r" transform="matrix(1,-.3,0,1,0,0)" y="-32" width="28" height="32"/><rect class="l" transform="matrix(-1,-.6,0,1,0,0)" y="-32" width="18" height="32"/><rect class="t" transform="matrix(1,-.3,-1,-.6,0,-32)" width="28" height="18"/><rect transform="matrix(1,-.3,0,1,0,0)" x="4" y="-26" width="20" height="20" fill="url(#gr)"/></g>
<polygon points="1172,568 1228,596 1290,574 1236,548" fill="#cfd5dd" stroke="#939eac"/>
<use href="#dr" x="1214" y="530"/><use href="#dr" x="1232" y="534"/><use href="#dr" x="1250" y="538"/>
<use href="#dr" x="1196" y="536"/><use href="#dr" x="1214" y="542"/><use href="#dr" x="1232" y="548"/>
<use href="#dr" x="1180" y="544"/><use href="#dr" x="1198" y="550"/><use href="#dr" x="1216" y="556"/>
<g transform="translate(1300,548)"><rect class="r" style="fill:#8ba7c9" transform="matrix(1,-.3,0,1,0,0)" y="-50" width="38" height="50"/><rect class="l" transform="matrix(-1,-.6,0,1,0,0)" y="-50" width="28" height="50"/><rect class="t" transform="matrix(1,-.3,-1,-.6,0,-50)" width="38" height="28"/><rect transform="matrix(1,-.3,0,1,0,0)" x="5" y="-44" width="12" height="38" fill="#5d86bb"/><rect transform="matrix(1,-.3,0,1,0,0)" x="21" y="-44" width="12" height="38" fill="#6b93c4"/></g>
<g transform="translate(1340,537)"><rect class="r" transform="matrix(1,-.3,0,1,0,0)" y="-46" width="22" height="46"/><rect class="l" transform="matrix(-1,-.6,0,1,0,0)" y="-46" width="15" height="46"/><rect class="t" transform="matrix(1,-.3,-1,-.6,0,-46)" width="22" height="15"/></g>
<g transform="translate(1405,532)"><rect class="r" transform="matrix(1,-.3,0,1,0,0)" y="-42" width="52" height="42"/><rect class="l" transform="matrix(-1,-.6,0,1,0,0)" y="-42" width="32" height="42"/><rect class="t" style="fill:#dde2e8" transform="matrix(1,-.3,-1,-.6,0,-42)" width="52" height="32"/><rect transform="matrix(1,-.3,0,1,0,0)" x="5" y="-36" width="42" height="30" fill="none" stroke="#8a95a3"/><rect transform="matrix(-1,-.6,0,1,0,0)" x="4" y="-36" width="24" height="30" fill="none" stroke="#8a95a3"/></g>

<!-- ARROWS -->
<polygon points="248.2,412.3 340.2,463.5 346.8,451.2 372,493 323.2,495.2 329.8,482.9 237.8,431.7" fill="url(#a1)"/>
<polygon points="433.9,689.7 519.7,722.7 524.8,709.7 555,748 506.9,756.3 511.9,743.3 426.1,710.3" fill="url(#a2)"/>
<polygon points="232.7,762 298.5,793 304.5,780.4 330,820 283.2,825.6 289.1,813 223.3,782" fill="url(#a3)"/>
<polygon points="859.7,665.7 908.3,684.8 913,672.7 940,708 896.2,715.5 900.9,703.4 852.3,684.3" fill="url(#a4)"/>
<polygon points="1154.6,603 1224.3,635.2 1230.2,622.5 1256,662 1209.2,667.9 1215.1,655.2 1145.4,623" fill="url(#a5)"/>

<!-- BREAKING PROCESS -->
<polygon points="190,905 335,860 395,872 255,918" fill="#e5e8ec"/>
<g transform="translate(335,858)"><rect class="r" transform="matrix(1,-.3,0,1,0,0)" y="-28" width="30" height="28"/><rect class="l" transform="matrix(-1,-.6,0,1,0,0)" y="-28" width="20" height="28"/><rect class="t" transform="matrix(1,-.3,-1,-.6,0,-28)" width="30" height="20"/><rect transform="matrix(1,-.3,0,1,0,0)" x="6" y="-20" width="14" height="10" fill="#5d6877"/></g>
<g transform="translate(290,868)"><rect class="r" transform="matrix(1,-.3,0,1,0,0)" y="-38" width="35" height="38"/><rect class="l" transform="matrix(-1,-.6,0,1,0,0)" y="-38" width="25" height="38"/><rect class="t" transform="matrix(1,-.3,-1,-.6,0,-38)" width="35" height="25"/><rect transform="matrix(1,-.3,0,1,0,0)" x="6" y="-28" width="20" height="14" fill="#6b7685"/></g>
<g transform="translate(245,875)"><rect class="r" transform="matrix(1,-.3,0,1,0,0)" y="-66" width="30" height="66"/><rect class="l" transform="matrix(-1,-.6,0,1,0,0)" y="-66" width="20" height="66"/><rect class="t" transform="matrix(1,-.3,-1,-.6,0,-66)" width="30" height="20"/><rect transform="matrix(1,-.3,0,1,0,0)" x="5" y="-56" width="20" height="30" fill="#dfe4ea" stroke="#939eac" stroke-width=".6"/></g>
<g transform="translate(205,885)"><rect class="r" transform="matrix(1,-.3,0,1,0,0)" y="-62" width="32" height="62"/><rect class="l" transform="matrix(-1,-.6,0,1,0,0)" y="-62" width="22" height="62"/><rect class="t" transform="matrix(1,-.3,-1,-.6,0,-62)" width="32" height="22"/><rect transform="matrix(-1,-.6,0,1,0,0)" x="4" y="-40" width="14" height="20" fill="#6b7685"/></g>
<g transform="translate(280,895)"><rect class="r" transform="matrix(1,-.3,0,1,0,0)" y="-24" width="32" height="24"/><rect class="l" transform="matrix(-1,-.6,0,1,0,0)" y="-24" width="18" height="24"/><rect class="t" transform="matrix(1,-.3,-1,-.6,0,-24)" width="32" height="18"/><rect transform="matrix(1,-.3,0,1,0,0)" x="5" y="-18" width="20" height="10" fill="#4a5564"/></g>
<g transform="translate(160,900)"><rect class="r" transform="matrix(1,-.3,0,1,0,0)" y="-56" width="30" height="56"/><rect class="l" transform="matrix(-1,-.6,0,1,0,0)" y="-56" width="25" height="56"/><rect class="t" transform="matrix(1,-.3,-1,-.6,0,-56)" width="30" height="25"/><rect transform="matrix(-1,-.6,0,1,0,0)" x="5" y="-40" width="14" height="22" fill="#d2d8e0" stroke="#939eac" stroke-width=".6"/></g>
<g transform="translate(232,905)"><rect class="r" transform="matrix(1,-.3,0,1,0,0)" y="-30" width="35" height="30"/><rect class="l" transform="matrix(-1,-.6,0,1,0,0)" y="-30" width="25" height="30"/><rect class="t" transform="matrix(1,-.3,-1,-.6,0,-30)" width="35" height="25"/><rect transform="matrix(1,-.3,0,1,0,0)" x="6" y="-22" width="22" height="12" fill="#5d6877"/></g>

<!-- REUSABLE PLASTIC -->
<polygon points="600,882 720,842 790,860 660,905" fill="#e5e8ec"/>
<polygon points="530,792 545,768 572,758 602,750 632,746 662,750 692,756 712,768 718,784 600,810" fill="url(#sp)" stroke="#7a8593" stroke-width=".6"/>
<polygon points="527,790 600,810 600,882 527,857" fill="#f1f3f6" stroke="#a4aebb"/>
<polygon points="600,810 719,782 719,842 600,882" fill="#e0e5eb" stroke="#a4aebb"/>
<line x1="560" y1="799" x2="560" y2="870" stroke="#c9d0d8"/>
<polygon points="650,816 690,806 716,816 712,862 690,870 650,862" fill="url(#spg)" stroke="#6f7a88" stroke-width=".6"/>
<polygon points="700,830 745,820 766,830 762,872 735,882 705,874" fill="url(#spg)" stroke="#6f7a88" stroke-width=".6"/>
<polygon points="618,840 650,830 670,842 672,880 642,892 620,882" fill="url(#spb)" stroke="#3f6396" stroke-width=".6"/>
<polygon points="662,862 702,855 712,886 676,896" fill="url(#spb)" stroke="#3f6396" stroke-width=".6"/>
<polygon points="724,800 752,794 762,806 760,824 730,830" fill="url(#spg)" stroke="#6f7a88" stroke-width=".6"/>

<!-- SULFURIC ACID -->
<polygon points="1010,858 1115,830 1170,845 1060,875" fill="#e6e9ed"/>
<polygon points="872,818 935,838 935,846 872,826" fill="#c4ae88"/>
<polygon points="935,838 990,822 990,830 935,846" fill="#b09a74"/>
<polygon points="872,818 935,838 990,822 925,805" fill="#dbc9a6" stroke="#b8a47f"/>
<polygon points="880,745 945,762 945,830 880,812" fill="#eef1f4" stroke="#9aa5b2"/>
<polygon points="945,762 1030,740 1030,808 945,830" fill="#dce1e7" stroke="#9aa5b2"/>
<polygon points="880,745 945,762 1030,740 965,724" fill="url(#btl)" stroke="#9aa5b2"/>
<path d="M912,754V820M975,754V822M1002,747V815" stroke="#b9c1cb"/>
<polygon points="940,728 965,735 965,748 940,741" fill="#eef1f4" stroke="#8f9aa8"/>
<polygon points="965,735 1000,727 1000,740 965,748" fill="#d3d9e0" stroke="#8f9aa8"/>
<polygon points="940,728 975,718 1000,727 965,735" fill="#c2c9d2" stroke="#8f9aa8"/>
<polygon points="950,840 1010,858 1010,866 950,848" fill="#c4ae88"/>
<polygon points="1010,858 1115,830 1115,838 1010,866" fill="#b09a74"/>
<polygon points="950,840 1010,858 1115,830 1055,812" fill="#d9c7a3" stroke="#b8a47f"/>
<g transform="scale(1.1)">
<use href="#dr" x="918" y="715"/><use href="#dr" x="936" y="711"/><use href="#dr" x="954" y="707"/>
<use href="#dr" x="904" y="724"/><use href="#dr" x="922" y="720"/><use href="#dr" x="940" y="716"/><use href="#dr" x="958" y="720"/>
<use href="#dr" x="909" y="735"/><use href="#dr" x="927" y="731"/><use href="#dr" x="945" y="728"/>
</g>

<!-- RECOVERED LEAD -->
<polygon points="1290,860 1420,812 1505,830 1365,882" fill="#e6e9ed"/>
<polygon points="1140,792 1290,842 1290,860 1140,810" fill="#c8d0d9" stroke="#a4aebb"/>
<polygon points="1290,842 1420,795 1420,812 1290,860" fill="#b3bcc8" stroke="#a4aebb"/>
<polygon points="1140,792 1290,842 1420,795 1280,748" fill="#dfe4ea" stroke="#a4aebb"/>
<g fill="#9aa4b1"><polygon points="1170,808 1185,813 1185,822 1170,817"/><polygon points="1215,823 1230,828 1230,837 1215,832"/><polygon points="1258,837 1272,842 1272,851 1258,846"/><polygon points="1320,840 1334,835 1334,844 1320,849"/><polygon points="1380,818 1394,813 1394,822 1380,827"/></g>
<polygon points="1238,690 1415,705 1415,790 1238,775" fill="#3a4049"/>
<polygon points="1238,690 1256,672 1402,684 1415,705" fill="#59616c"/>
<polygon points="1262,684 1275,676 1395,686 1400,697" fill="#6c747f"/>
<line x1="1380" y1="706" x2="1380" y2="788" stroke="#252a30"/>
<circle cx="1262" cy="686" r="6" fill="#c8382e"/>
<polygon points="1162,722 1347,732 1347,822 1164,792" fill="url(#batg)"/>
<polygon points="1347,732 1357,722 1357,812 1347,822" fill="#2a2f36"/>
<polygon points="1162,722 1190,697 1352,708 1347,732" fill="#5c646f"/>
<polygon points="1182,714 1200,702 1340,711 1336,724" fill="#6e7680"/>
<line x1="1205" y1="705" x2="1335" y2="714" stroke="#a9b0b9" stroke-width="1.5"/>
<path d="M1258,734V808M1300,737V815M1205,728V800" stroke="#1f2429"/>
<circle cx="1192" cy="714" r="7" fill="#c8382e"/>
<circle cx="1330" cy="722" r="4" fill="#c78a3a"/>
<text x="1203" y="783" font-size="21" font-weight="bold" fill="#e6eaee">24V</text>

<!-- LABELS -->
<text x="131" y="972" font-size="29" fill="#1f3556" textLength="257" lengthAdjust="spacingAndGlyphs">Breaking Process</text>
<text x="531" y="971" font-size="29" fill="#1f3556" textLength="251" lengthAdjust="spacingAndGlyphs">Reusable Plastic</text>
<text x="882" y="969" font-size="29" fill="#1f3556" textLength="339" lengthAdjust="spacingAndGlyphs">Sulfuric Acid Recovery</text>
<text x="1265" y="973" font-size="29" fill="#1f3556" textLength="232" lengthAdjust="spacingAndGlyphs">Recovered Lead</text>
</svg>
</body></html>
